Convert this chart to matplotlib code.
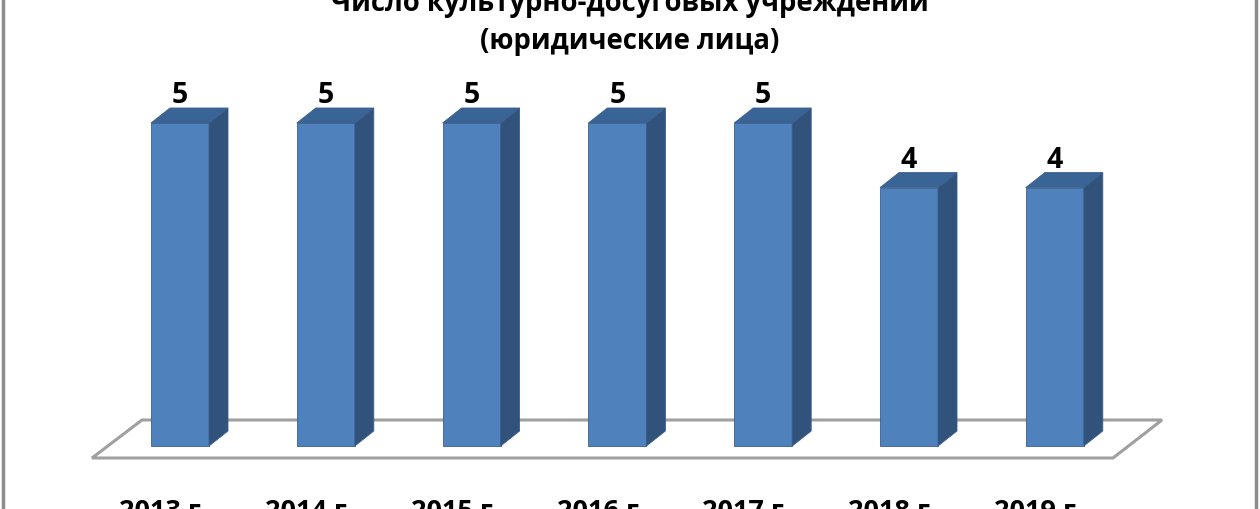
import matplotlib
matplotlib.use("Agg")
import matplotlib.pyplot as plt
from matplotlib.patches import Polygon

plt.rcParams['font.family'] = ['Open Sans', 'DejaVu Sans']

# ---- data ----
years = ["2013 г.", "2014 г.", "2015 г.", "2016 г.", "2017 г.", "2018 г.", "2019 г."]
values = [5, 5, 5, 5, 5, 4, 4]
title_line1 = "Число культурно-досуговых учреждений"
title_line2 = "(юридические лица)"

# ---- style ----
FRONT = "#4F81BD"
SIDE = "#31527B"
TOP = "#3B6496"
EDGE = "#3A5F8E"

W, H = 1260, 510
fig = plt.figure(figsize=(W / 100, H / 100), dpi=100)
fig.patch.set_facecolor("white")
ax = fig.add_axes([0, 0, 1, 1])
ax.set_axis_off()

# pixel mapping: x unit = 145.8 px, bar 0 center at 180 px; value unit = 64.6 px, zero at 447 px from top
xu, x0 = 145.8, 180.0
yu, y0 = 64.6, 447.0
ax.set_xlim(-x0 / xu, (W - x0) / xu)
ax.set_ylim(-(H - y0) / yu, y0 / yu)

bw = 58 / xu       # front face width
dx = 19 / xu       # depth offset x
dy = 15 / yu       # depth offset y

n = len(values)
# floor
fb = 26 / yu       # back edge level
ff = -12 / yu      # front edge level
floor = Polygon([(-88 / xu, ff), ((1113 - x0) / xu, ff), ((1162 - x0) / xu, fb), ((142 - x0) / xu, fb)],
                closed=True, facecolor="white", edgecolor="#A0A0A0", lw=2.2, zorder=1)
ax.add_patch(floor)

for i, v in enumerate(values):
    l, r = i - bw / 2, i + bw / 2
    ax.bar(i, v, width=bw, bottom=0, color=FRONT, edgecolor=EDGE, lw=0.6, zorder=3)
    side = Polygon([(r, 0), (r + dx, dy), (r + dx, v + dy), (r, v)], closed=True,
                   facecolor=SIDE, edgecolor=EDGE, lw=0.6, zorder=3)
    top = Polygon([(l, v), (r, v), (r + dx, v + dy), (l + dx, v + dy)], closed=True,
                  facecolor=TOP, edgecolor=EDGE, lw=0.6, zorder=3)
    ax.add_patch(side)
    ax.add_patch(top)
    ax.text(i, v + 21 / yu, str(v), ha="center", va="baseline", fontsize=20.5,
            fontweight="bold", color="black", zorder=4)
    ax.text(i - 16 / xu, -(519 - y0) / yu, years[i], ha="center", va="baseline",
            fontsize=19.5, fontweight="bold", color="black", clip_on=False, zorder=4)

# title (cropped at top in reference)
fig.text(0.5, (H - 11) / H, title_line1, ha="center", va="baseline", fontsize=19.8, fontweight="bold")
fig.text(0.5, (H - 49) / H, title_line2, ha="center", va="baseline", fontsize=19.8, fontweight="bold")

# frame lines on left and right
ax.plot([-(x0 - 3) / xu] * 2, ax.get_ylim(), color="#8C8C8C", lw=2.5, zorder=5, clip_on=False)
ax.plot([(1256 - x0) / xu] * 2, ax.get_ylim(), color="#8C8C8C", lw=2.5, zorder=5, clip_on=False)

fig.savefig("out.png", dpi=100, facecolor="white")
